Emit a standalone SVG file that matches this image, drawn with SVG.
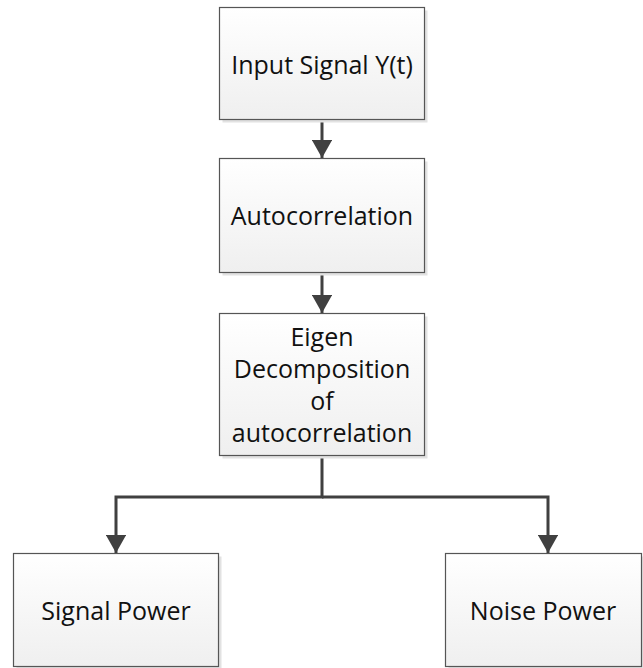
<svg xmlns="http://www.w3.org/2000/svg" width="643" height="668" viewBox="0 0 643 668">
  <defs>
    <linearGradient id="boxFill" x1="0" y1="0" x2="0" y2="1">
      <stop offset="0" stop-color="#ffffff"/>
      <stop offset="1" stop-color="#efefef"/>
    </linearGradient>
    <marker id="arrow" markerWidth="6" markerHeight="6.8" refX="6" refY="3.4" orient="auto" markerUnits="strokeWidth">
      <path d="M0,0 L6,3.4 L0,6.8 Z" fill="#404040"/>
    </marker>
    <style>
      .shadow { fill: #e2e2e2; }
      .box { fill: url(#boxFill); stroke: #555555; stroke-width: 1.2; }
      .label { font-family: "Open Sans", "Liberation Sans", sans-serif; font-size: 25px; fill: #111111; text-anchor: middle; dominant-baseline: central; }
      .wire { fill: none; stroke: #404040; stroke-width: 3; }
    </style>
  </defs>

  <rect width="643" height="668" fill="#ffffff"/>

  <!-- connectors -->
  <g id="connectors">
    <path class="wire" d="M322,119 V158" marker-end="url(#arrow)"/>
    <path class="wire" d="M322,272 V313" marker-end="url(#arrow)"/>
    <path class="wire" d="M322,455 V497 H116 V553" marker-end="url(#arrow)"/>
    <path class="wire" d="M322,497 H548 V553" marker-end="url(#arrow)"/>
  </g>

  <g id="input-signal">
    <rect class="shadow" x="222.5" y="10.5" width="205" height="112"/>
    <rect class="box" x="219.5" y="7.5" width="205" height="112"/>
    <text class="label" x="322" y="64">Input Signal Y(t)</text>
  </g>

  <g id="autocorrelation">
    <rect class="shadow" x="222.5" y="161.5" width="205" height="114"/>
    <rect class="box" x="219.5" y="158.5" width="205" height="114"/>
    <text class="label" x="322" y="215">Autocorrelation</text>
  </g>

  <g id="eigen-decomposition">
    <rect class="shadow" x="222.5" y="316.5" width="205" height="142"/>
    <rect class="box" x="219.5" y="313.5" width="205" height="142"/>
    <text class="label" x="322" y="336">Eigen</text>
    <text class="label" x="322" y="368">Decomposition</text>
    <text class="label" x="322" y="400">of</text>
    <text class="label" x="322" y="432">autocorrelation</text>
  </g>

  <g id="signal-power">
    <rect class="shadow" x="16.5" y="556.5" width="205" height="113"/>
    <rect class="box" x="13.5" y="553.5" width="205" height="113"/>
    <text class="label" x="116" y="610">Signal Power</text>
  </g>

  <g id="noise-power">
    <rect class="shadow" x="448.5" y="556.5" width="196" height="113"/>
    <rect class="box" x="445.5" y="553.5" width="196" height="113"/>
    <text class="label" x="543" y="610">Noise Power</text>
  </g>
</svg>
